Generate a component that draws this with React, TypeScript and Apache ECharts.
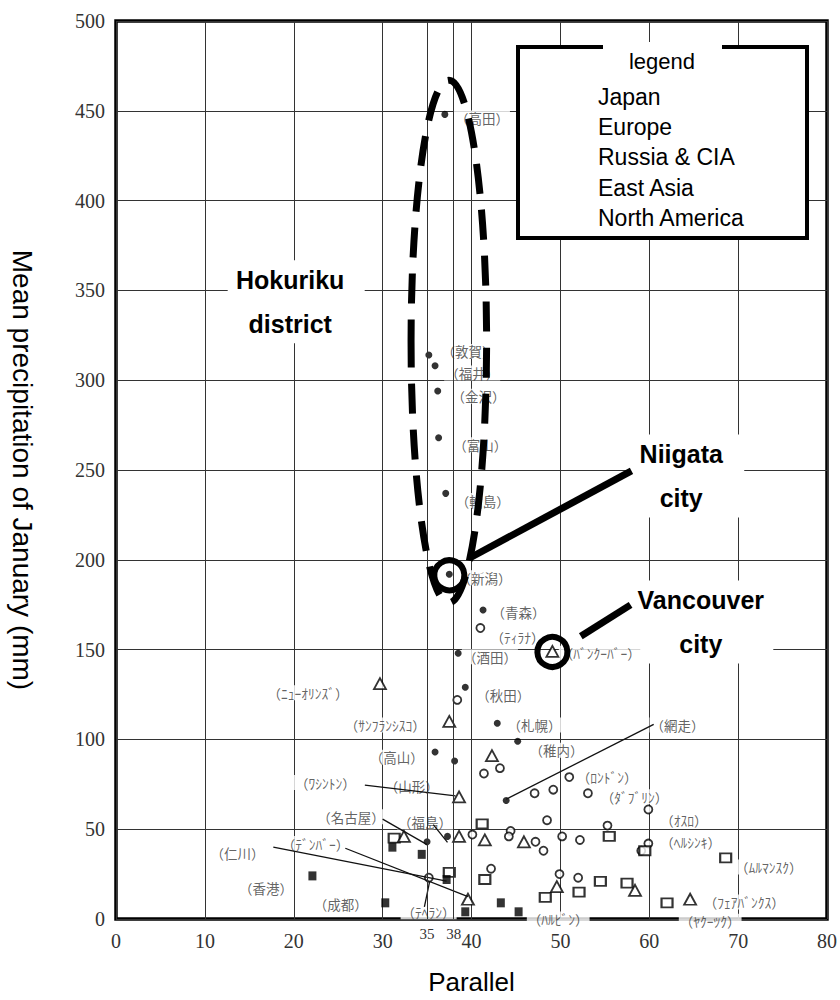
import React, { useEffect, useRef } from 'react';
import * as echarts from 'echarts';

// ---------- data ----------
const legendNames = ['Japan', 'Europe', 'Russia & CIA', 'East Asia', 'North America'];
const extraParallelTicks = [35, 38];

// [parallel (deg N), mean January precipitation (mm)]
const japanPoints = [
  [37.0, 448], [35.2, 314], [35.9, 308], [36.2, 294], [36.3, 268], [37.1, 237],
  [37.5, 192], [41.3, 172], [38.5, 148], [39.3, 129], [42.9, 109], [45.2, 99],
  [35.9, 93], [38.1, 88], [43.9, 66], [35.0, 43], [37.3, 46],
];
const europePoints = [
  [41.0, 162], [38.4, 122], [41.4, 81], [43.2, 84], [47.1, 70], [49.2, 72],
  [51.0, 79], [53.1, 70], [48.5, 55], [59.9, 61], [55.3, 52], [44.4, 49],
  [40.1, 47], [44.2, 46], [47.2, 43], [48.1, 38], [50.2, 46], [52.2, 44],
  [59.9, 42], [59.1, 38], [42.2, 28], [49.9, 25], [52.0, 23], [35.2, 23],
];
const russiaPoints = [
  [41.2, 53], [55.5, 46], [59.5, 38], [68.6, 34], [37.5, 26], [41.5, 22],
  [54.5, 21], [57.5, 20], [52.1, 15], [48.3, 12], [62.0, 9], [31.3, 45],
];
const eastAsiaPoints = [
  [22.1, 24], [30.3, 9], [37.2, 22], [34.4, 36], [39.3, 4], [43.3, 9], [45.3, 4], [31.1, 40],
];
const northAmericaPoints = [
  [29.7, 131], [37.5, 110], [49.1, 149], [42.3, 91], [38.6, 68], [38.6, 46],
  [41.5, 44], [45.9, 43], [32.4, 46], [39.6, 11], [49.6, 18], [58.4, 16], [64.6, 11],
];

// city names, anchored at their visible left edge in data space
const cityLabels: [number, number, string][] = [
  [38.7, 446, '（高田）'], [37.2, 316, '（敦賀）'], [37.6, 304, '（福井）'],
  [38.3, 291, '（金沢）'], [38.5, 264, '（富山）'], [38.8, 233, '（輪島）'],
  [39.0, 190, '（新潟）'], [42.8, 171, '（青森）'], [42.7, 157, '（ﾃｨﾗﾅ）'],
  [39.6, 146, '（酒田）'], [50.5, 148, '（ﾊﾞﾝｸｰﾊﾞｰ）'], [41.1, 125, '（秋田）'],
  [17.6, 126, '（ﾆｭｰｵﾘﾝｽﾞ）'], [26.3, 108, '（ｻﾝﾌﾗﾝｼｽｺ）'], [44.6, 108, '（札幌）'],
  [47.1, 94, '（稚内）'], [60.7, 108, '（網走）'], [29.1, 90, '（高山）'],
  [30.8, 74, '（山形）'], [20.7, 76, '（ﾜｼﾝﾄﾝ）'], [52.4, 79, '（ﾛﾝﾄﾞﾝ）'],
  [55.1, 68, '（ﾀﾞﾌﾞﾘﾝ）'], [61.8, 55, '（ｵｽﾛ）'], [61.8, 43, '（ﾍﾙｼﾝｷ）'],
  [70.2, 29, '（ﾑﾙﾏﾝｽｸ）'], [66.7, 9.5, '（ﾌｪｱﾊﾞﾝｸｽ）'], [64.0, -1.2, '（ﾔｸｰﾂｸ）'],
  [46.9, 0, '（ﾊﾙﾋﾞﾝ）'], [23.2, 57, '（名古屋）'], [32.3, 54, '（福島）'],
  [19.2, 42, '（ﾃﾞﾝﾊﾞｰ）'], [11.2, 37, '（仁川）'], [14.4, 17, '（香港）'],
  [22.8, 8.5, '（成都）'], [32.7, 4, '（ﾃﾍﾗﾝ）'],
];

// leader lines from a name to its point
const leaderLines = [
  [[28.0, 74.5], [38.2, 68.5]],
  [[30.0, 55.6], [35.0, 41.4]],
  [[35.7, 52.5], [37.3, 42.7]],
  [[17.7, 40.0], [37.2, 21.1]],
  [[25.8, 39.4], [39.6, 12.5]],
  [[34.7, 6.7], [35.3, 21.1]],
  [[60.5, 108.4], [43.9, 66.7]],
];

// annotations (data space)
const hokurikuLoop = { left: 33.2, right: 41.7, top: 467, bottom: 176 };
const ringedPoints = [[37.5, 192], [49.1, 149]];
const pointerLines = [
  [[39.8, 201], [58.0, 249.5]],
  [[52.3, 157.4], [57.9, 174.9]],
];
const calloutTexts = [
  { lines: ['Hokuriku', 'district'], at: [19.6, 343.4] },
  { lines: ['Niigata', 'city'], at: [63.6, 246.4] },
  { lines: ['Vancouver', 'city'], at: [65.8, 165.1] },
];
const calloutBoxWidths = [137, 114, 133];
const legendTitle = 'legend';

// ---------- styles ----------
const SERIF = '"Liberation Serif", "DejaVu Serif", serif';
const SANS = '"Liberation Sans", Arial, sans-serif';
const JP = '"Noto Sans CJK JP", sans-serif';

const openStyle = { color: '#fff', borderColor: '#000', borderWidth: 1.8 };
const filledStyle = { color: '#000' };

function markerSeries(name: string, data: number[][], symbol: string, size: any, style: any) {
  return {
    type: 'scatter',
    name,
    data,
    symbol,
    symbolSize: size,
    itemStyle: style,
    z: 3,
    silent: true,
    clip: false,
  };
}

const option: any = {
  animation: false,
  backgroundColor: '#fff',
  grid: {
    left: 115, right: 11, top: 21, bottom: 78,
    show: true, borderColor: '#000', borderWidth: 3.5, backgroundColor: 'transparent',
  },
  legend: {
    data: legendNames,
    orient: 'vertical',
    left: 588,
    top: 80,
    icon: 'none',
    itemWidth: 0,
    itemHeight: 23,
    itemGap: 7.4,
    selectedMode: false,
    z: 8,
    textStyle: { fontSize: 23, color: '#000', fontFamily: SANS },
  },
  xAxis: {
    type: 'value', min: 0, max: 80, interval: 10,
    name: 'Parallel', nameLocation: 'middle', nameGap: 50,
    nameTextStyle: { fontSize: 26, color: '#000', fontFamily: SANS },
    axisLine: { show: false }, axisTick: { show: false },
    axisLabel: { color: '#333', fontSize: 20, fontFamily: SERIF, margin: 12 },
    splitLine: { show: true, lineStyle: { color: '#333', width: 1 } },
  },
  yAxis: {
    type: 'value', min: 0, max: 500, interval: 50,
    name: 'Mean precipitation of January (mm)', nameLocation: 'middle', nameGap: 80, nameRotate: -90,
    nameTextStyle: { fontSize: 28, color: '#000', fontFamily: SANS },
    axisLine: { show: false }, axisTick: { show: false },
    axisLabel: { color: '#333', fontSize: 20, fontFamily: SERIF, margin: 11 },
    splitLine: { show: true, lineStyle: { color: '#333', width: 1 } },
  },
  series: [
    {
      type: 'scatter', name: 'parallels', data: [], z: 1, silent: true,
      markLine: {
        silent: true, symbol: 'none', animation: false,
        lineStyle: { color: '#333', width: 1, type: 'solid' },
        emphasis: { disabled: true },
        label: {
          show: true, position: 'start', distance: 7,
          formatter: (p: any) => String(p.value),
          color: '#333', fontSize: 15, fontFamily: SERIF,
        },
        data: extraParallelTicks.map((v) => ({ xAxis: v })),
      },
    },
    {
      type: 'scatter', name: 'names', z: 2, silent: true, clip: false,
      data: cityLabels.map(([x, y, t]) => ({ value: [x, y], name: t })),
      symbolSize: 1,
      itemStyle: { color: 'rgba(0,0,0,0)' },
      label: {
        show: true, position: 'right', distance: 0, offset: [-6.5, 0],
        formatter: (p: any) => p.name,
        color: '#3a3a3a', fontSize: 13.5, lineHeight: 15, fontFamily: JP,
        backgroundColor: '#fff', padding: [0, 1],
      },
    },
    {
      type: 'lines', name: 'leaders', coordinateSystem: 'cartesian2d', z: 4, silent: true,
      data: leaderLines.map((c) => ({ coords: c })),
      lineStyle: { color: '#111', width: 1.3, opacity: 1 },
    },
    markerSeries('Japan', japanPoints, 'circle', 7, filledStyle),
    markerSeries('Europe', europePoints, 'circle', 8, openStyle),
    markerSeries('Russia & CIA', russiaPoints, 'rect', [11, 9], { ...openStyle, borderWidth: 2 }),
    markerSeries('East Asia', eastAsiaPoints, 'rect', [8, 9], filledStyle),
    markerSeries('North America', northAmericaPoints, 'triangle', [12, 11], openStyle),
  ],
};

export default function App() {
  const ref = useRef<HTMLDivElement>(null);
  useEffect(() => {
    document.body.style.margin = '0';
    const chart = echarts.init(ref.current!, null, { renderer: 'svg' });
    chart.setOption(option);
    const px = (p: number[]) => chart.convertToPixel({ gridIndex: 0 }, p) as number[];

    const g: any[] = [];
    // legend frame
    g.push({ type: 'rect', z: 7, shape: { x: 518, y: 47, width: 289, height: 191 },
      style: { fill: '#fff', stroke: '#000', lineWidth: 4 } });
    g.push({ type: 'rect', z: 7, shape: { x: 603, y: 42, width: 119, height: 10 },
      style: { fill: '#fff', stroke: null } });
    g.push({ type: 'text', z: 8, x: 662, y: 61,
      style: { text: legendTitle, font: `22px ${SANS}`, fill: '#000',
        align: 'center', verticalAlign: 'middle', textAlign: 'center', textVerticalAlign: 'middle' } });

    // callout texts with white boxes
    calloutTexts.forEach((c, i) => {
      const [cx, cy] = px(c.at);
      const w = calloutBoxWidths[i];
      g.push({ type: 'rect', z: 5, shape: { x: cx - w / 2 + 6, y: cy - 42, width: w, height: 83 },
        style: { fill: '#fff', stroke: null } });
      c.lines.forEach((t, k) => {
        g.push({ type: 'text', z: 6, x: cx, y: cy + (k === 0 ? -22 : 22),
          style: { text: t, font: `bold 25px ${SANS}`, fill: '#000',
            align: 'center', verticalAlign: 'middle', textAlign: 'center', textVerticalAlign: 'middle' } });
      });
    });

    // Hokuriku dashed loop
    const [lx, ty] = px([hokurikuLoop.left, hokurikuLoop.top]);
    const [rx, by] = px([hokurikuLoop.right, hokurikuLoop.bottom]);
    g.push({ type: 'ellipse', z: 9,
      shape: { cx: (lx + rx) / 2, cy: (ty + by) / 2, rx: (rx - lx) / 2, ry: (by - ty) / 2 },
      style: { fill: 'none', stroke: '#000', lineWidth: 7, lineDash: [30, 16], lineDashOffset: 8 } });

    // rings
    ringedPoints.forEach((p) => {
      const [cx, cy] = px(p);
      g.push({ type: 'circle', z: 9, shape: { cx, cy, r: 15 },
        style: { fill: 'none', stroke: '#000', lineWidth: 6 } });
    });

    // pointer lines
    pointerLines.forEach(([a, b]) => {
      const [x1, y1] = px(a);
      const [x2, y2] = px(b);
      g.push({ type: 'line', z: 9, shape: { x1, y1, x2, y2 },
        style: { stroke: '#000', lineWidth: 7 } });
    });

    chart.setOption({ graphic: g });
    return () => chart.dispose();
  }, []);
  return <div ref={ref} style={{ width: 840, height: 1000 }} />;
}
